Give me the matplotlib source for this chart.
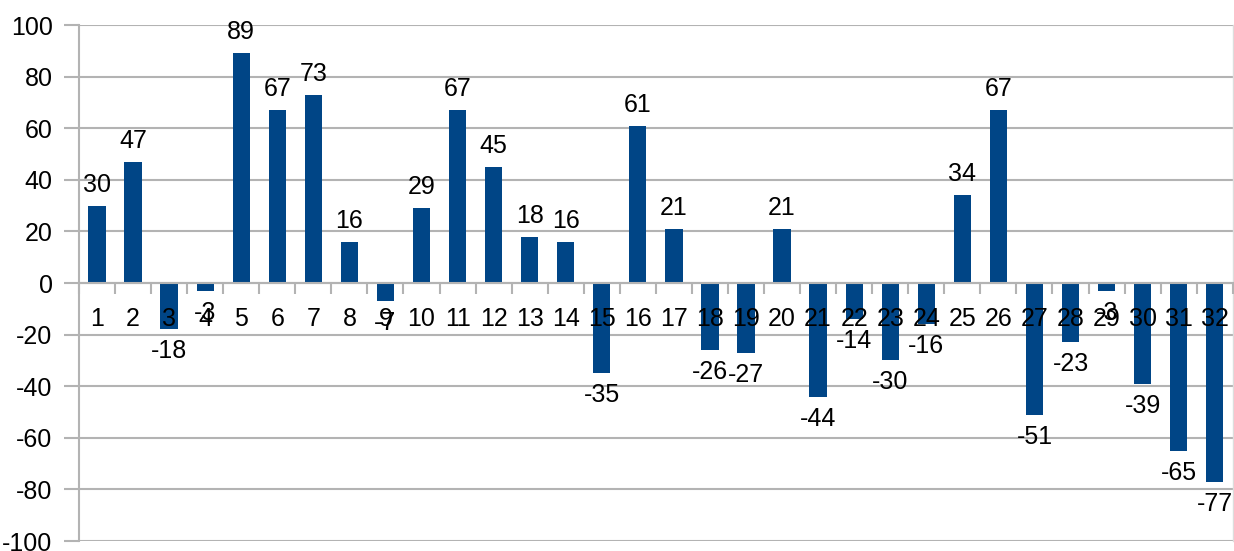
import matplotlib
matplotlib.use('Agg')
import matplotlib.pyplot as plt
import numpy as np

# category labels and values
categories = [str(i) for i in range(1, 33)]
values = [30, 47, -18, -3, 89, 67, 73, 16, -7, 29, 67, 45, 18, 16, -35, 61,
          21, -26, -27, 21, -44, -14, -30, -16, 34, 67, -51, -23, -3, -39, -65, -77]
yticks = list(range(-100, 101, 20))

bar_color = '#004586'
grid_color = '#b3b3b3'

plt.rcParams['font.family'] = ['Liberation Sans', 'DejaVu Sans']

fig = plt.figure(figsize=(12.34, 5.51), dpi=100)
ax = fig.add_axes([0.064, 0.018, 0.935, 0.9366])

x = np.arange(len(categories))
bars = ax.bar(x, values, width=0.48, color=bar_color, zorder=2)

ax.set_xlim(-0.5, len(categories) - 0.5)
ax.set_ylim(-100, 100)
ax.set_yticks(yticks)
ax.set_yticklabels([str(v) for v in yticks], fontsize=18)
ax.yaxis.grid(True, color=grid_color, linewidth=1.5, zorder=0)
ax.set_axisbelow(True)
ax.tick_params(axis='y', direction='out', length=11, width=1.5, color=grid_color, pad=8)

# x axis sits on zero, labels at centres, small ticks at boundaries
ax.spines['bottom'].set_position(('data', 0))
ax.spines['bottom'].set_color(grid_color)
ax.spines['bottom'].set_linewidth(1.5)
ax.spines['left'].set_color(grid_color)
ax.spines['left'].set_linewidth(1.5)
ax.spines['top'].set_visible(False)
ax.spines['right'].set_color('#dddddd')
ax.spines['right'].set_linewidth(1.0)

ax.set_xticks(x)
ax.set_xticklabels(categories, fontsize=18)
ax.set_xticks(np.arange(-0.5, len(categories), 1.0), minor=True)
ax.tick_params(axis='x', which='major', length=0, pad=17)
ax.tick_params(axis='x', which='minor', direction='out', length=8, width=1.5, color=grid_color)
for lbl in ax.get_xticklabels():
    lbl.set_zorder(5)
ax.xaxis.set_zorder(5)

# value labels
for xi, v in zip(x, values):
    if v >= 0:
        ax.annotate(str(v), (xi, v), xytext=(0, 14), textcoords='offset pixels',
                    ha='center', va='baseline', fontsize=18, zorder=6)
    else:
        ax.annotate(str(v), (xi, v), xytext=(0, -10), textcoords='offset pixels',
                    ha='center', va='top', fontsize=18, zorder=6)

fig.savefig('out.png', dpi=100)
